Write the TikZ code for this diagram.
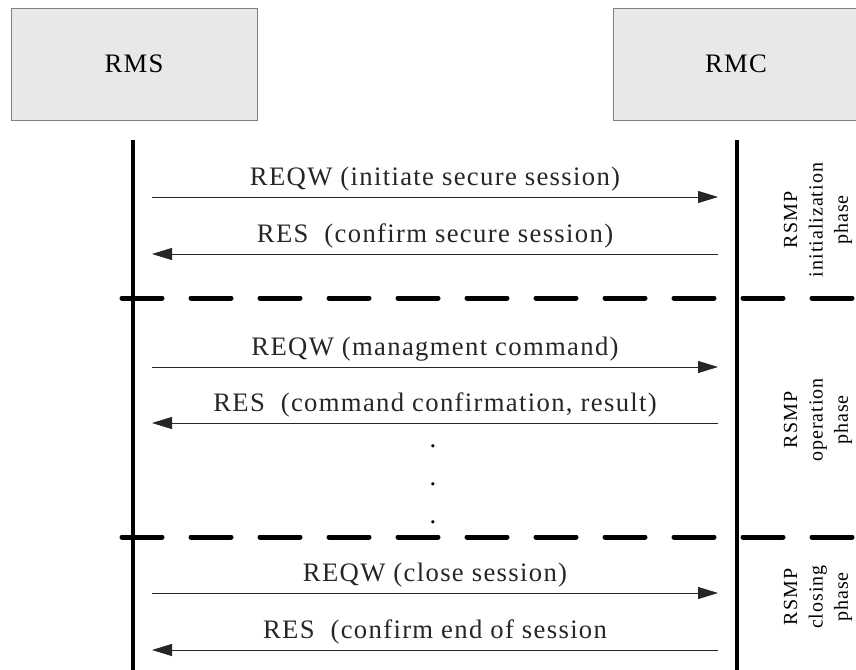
\documentclass[tikz,border=0pt]{standalone}
\usepackage{fontspec}
\setmainfont{Liberation Serif}[LetterSpace=5]
\usetikzlibrary{arrows.meta}
\begin{document}
\begin{tikzpicture}[x=0.75pt,y=-0.75pt,
  party/.style={draw=black!50, fill=black!9, minimum width=184.5pt, minimum height=84pt, font=\fontsize{20}{24}\selectfont},
  msg/.style={black!85, line width=0.7pt, -{Triangle[length=15pt,width=9pt]}},
  msgtext/.style={font=\fontsize{20}{24}\selectfont, inner sep=2pt},
  lifeline/.style={line width=3pt},
  phaseline/.style={line width=3.75pt, line cap=round, dash pattern=on 30pt off 21.75pt},
  phase/.style={rotate=90, align=center, font=\fontsize{15}{19}\selectfont}]
  \useasboundingbox (0,0) rectangle (856,670);
  % parties
  \node[party] (rms) at (134,64) {RMS};
  \node[party] (rmc) at (736,64) {RMC};
  \coordinate (rmstop) at (133,140);
  \coordinate (rmsbot) at (133,672);
  \coordinate (rmctop) at (737,140);
  \coordinate (rmcbot) at (737,672);
  \draw[lifeline] (rmstop) -- (rmsbot);
  \draw[lifeline] (rmctop) -- (rmcbot);
  % phase separators
  \coordinate (sepa1) at (122,298);
  \coordinate (sepa2) at (858,298);
  \coordinate (sepb1) at (122,537);
  \coordinate (sepb2) at (858,537);
  \draw[phaseline] (sepa1) -- (sepa2);
  \draw[phaseline] (sepb1) -- (sepb2);
  % messages
  \foreach \i/\y in {1/197,2/254,3/367,4/423,5/593,6/650} {
    \coordinate (s\i) at (152,\y);
    \coordinate (c\i) at (718,\y);
  }
  \draw[msg] (s1) -- node[msgtext, above=2pt] (m1) {REQW (initiate secure session)} (c1);
  \draw[msg] (c2) -- node[msgtext, above=2pt] (m2) {RES~ (confirm secure session)} (s2);
  \draw[msg] (s3) -- node[msgtext, above=2pt] (m3) {REQW (managment command)} (c3);
  \draw[msg] (c4) -- node[msgtext, above=2pt] (m4) {RES~ (command confirmation, result)} (s4);
  \draw[msg] (s5) -- node[msgtext, above=2pt] (m5) {REQW (close session)} (c5);
  \draw[msg] (c6) -- node[msgtext, above=2pt] (m6) {RES~ (confirm end of session} (s6);
  % dots
  \foreach \y [count=\k] in {446,484,522}
    \node[msgtext] (dot\k) at (433,\y) {.};
  % phases
  \node[phase] (ph1) at (818,220) {RSMP\\initialization\\phase};
  \node[phase] (ph2) at (818,420) {RSMP\\operation\\phase};
  \node[phase] (ph3) at (818,597) {RSMP\\closing\\phase};
\end{tikzpicture}
\end{document}
